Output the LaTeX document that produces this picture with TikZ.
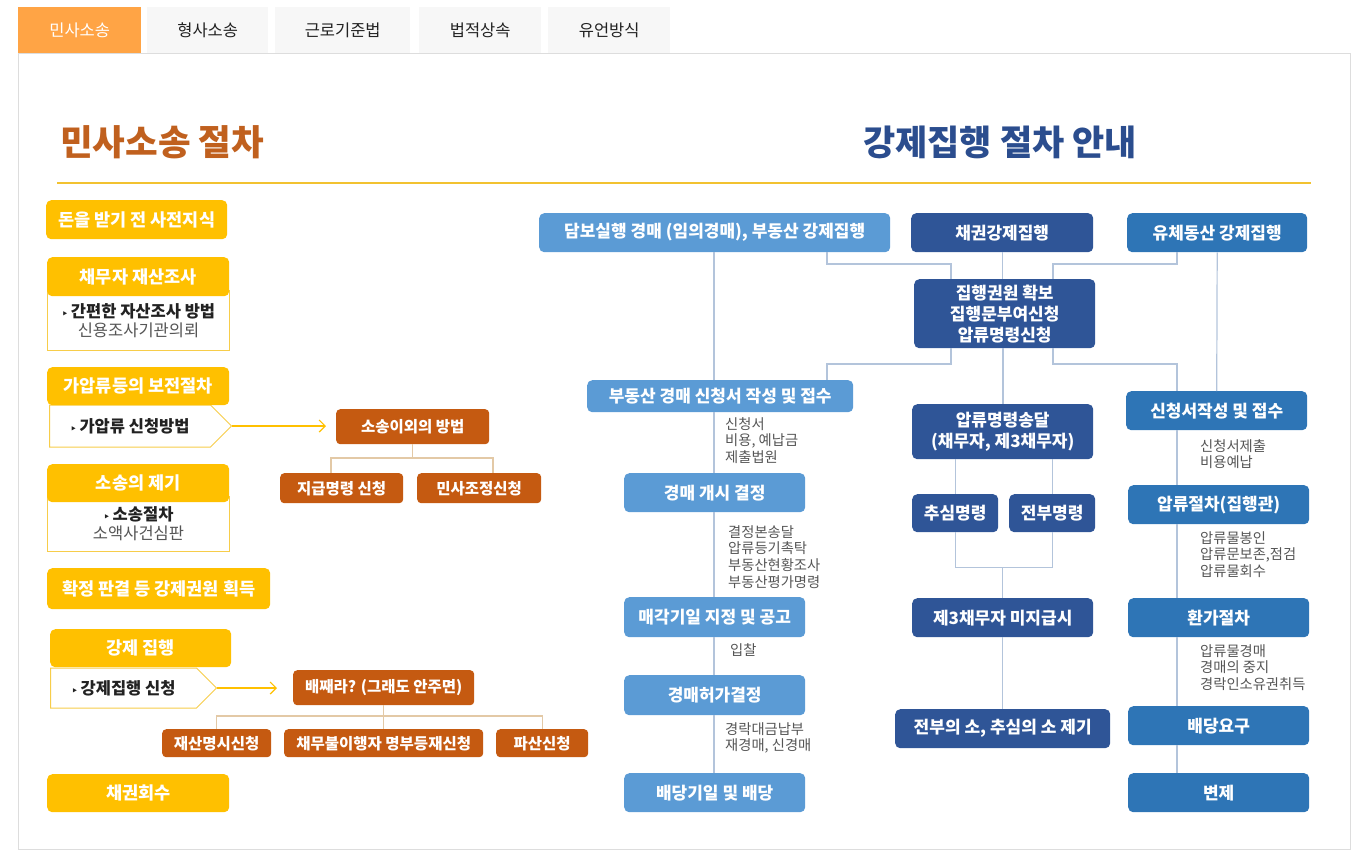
\documentclass[tikz,border=0pt]{standalone}
\usepackage{fontspec}
\setmainfont{Noto Sans CJK KR}
\newfontfamily\dejavu{DejaVu Sans}
\usetikzlibrary{arrows.meta,shapes.symbols}
\definecolor{cY}{HTML}{FFC000}
\definecolor{cYl}{HTML}{F7CD4A}
\definecolor{cBr}{HTML}{C55A11}
\definecolor{cTan}{HTML}{E3C9A6}
\definecolor{cLB}{HTML}{5B9BD5}
\definecolor{cDB}{HTML}{2F5597}
\definecolor{cMB}{HTML}{2E75B6}
\definecolor{cLn}{HTML}{B3C4DB}
\definecolor{cGr}{HTML}{555555}
\definecolor{cTx}{HTML}{222222}
\definecolor{cT1}{HTML}{C0601E}
\definecolor{cT2}{HTML}{2B4D8E}
\definecolor{cLine}{HTML}{F2C230}
\definecolor{cTabOn}{HTML}{FFA445}
\definecolor{cTabOff}{HTML}{F7F7F7}
\definecolor{cPanel}{HTML}{DDDDDD}
\newcommand\bx[7]{\node[#1,anchor=north west,minimum width=#5pt,minimum height=#6pt] (#2) at (#3,#4) {#7};}
\newcommand\tri{{\dejavu\fontsize{10}{10}\selectfont ‣}\,}
\tikzset{
 every node/.style={inner sep=0pt},
 tabon/.style={fill=cTabOn,text=white,font=\fontsize{16.5}{19}\selectfont},
 taboff/.style={fill=cTabOff,text=cTx,font=\fontsize{16.5}{19}\selectfont},
 ybox/.style={fill=cY,rounded corners=5pt,text=white,font=\bfseries\fontsize{17.5}{20}\selectfont},
 wbox/.style={draw=cYl,line width=1pt,fill=white,align=center,text=cGr,font=\fontsize{16.5}{19}\selectfont},
 chev/.style={signal,signal to=east,signal pointer angle=90,draw=cYl,line width=1pt,fill=white,text=cTx,font=\bfseries\fontsize{16.5}{19}\selectfont},
 brbox/.style={fill=cBr,rounded corners=4pt,text=white,font=\bfseries\fontsize{15.5}{18}\selectfont},
 lbbox/.style={fill=cLB,rounded corners=5pt,text=white,align=center,font=\bfseries\fontsize{17}{21}\selectfont},
 dbbox/.style={lbbox,fill=cDB},
 mbbox/.style={lbbox,fill=cMB},
 note/.style={anchor=north west,align=left,text=cGr,font=\fontsize{14.3}{16.8}\selectfont},
 bl/.style={draw=cLn,line width=1.2pt},
 tn/.style={draw=cTan,line width=1.2pt},
 yarr/.style={draw=cY,line width=1.2pt,-{Straight Barb[length=6pt,width=12pt]}},
}
\begin{document}
\begin{tikzpicture}[x=1pt,y=-1pt]
\useasboundingbox (0,0) rectangle (1365,857);
% tabs and panel
\draw[cPanel,line width=1pt] (18,53) rectangle (1350,849);
\bx{tabon}{t1}{18}{7}{123}{46}{민사소송}
\bx{taboff}{t2}{147}{7}{121}{46}{형사소송}
\bx{taboff}{t3}{275}{7}{135}{46}{근로기준법}
\bx{taboff}{t4}{419}{7}{122}{46}{법적상속}
\bx{taboff}{t5}{548}{7}{122}{46}{유언방식}
% titles
\node[anchor=west,text=cT1,font=\bfseries\fontsize{35.5}{40}\selectfont] (title1) at (60,142) {민사소송 절차};
\node[anchor=west,text=cT2,font=\bfseries\fontsize{35}{40}\selectfont] (title2) at (863,142) {강제집행 절차 안내};
\draw[cLine,line width=2pt] (57,183) -- (1311,183);
% left column
\bx{ybox}{ya}{46}{200}{181}{39}{돈을 받기 전 사전지식}
\bx{wbox}{wb}{47}{290}{182}{60}{{\bfseries\color{cTx}\tri 간편한 자산조사 방법}\\신용조사기관의뢰}
\bx{ybox}{yb}{47}{257}{182}{39}{채무자 재산조사}
\node[chev,anchor=west,minimum width=182pt,minimum height=42pt] (chev1) at (49,426) {\tri 가압류 신청방법};
\bx{ybox}{yc}{47}{367}{182}{38}{가압류등의 보전절차}
\bx{wbox}{wd}{47}{496}{182}{55}{{\bfseries\color{cTx}\tri 소송절차}\\소액사건심판}
\bx{ybox}{yd}{47}{464}{182}{38}{소송의 제기}
\bx{ybox}{ye}{47}{568}{223}{41}{확정 판결 등 강제권원 획득}
\node[chev,anchor=west,minimum width=166pt,minimum height=40pt] (chev2) at (50,688) {\tri 강제집행 신청};
\bx{ybox}{yf}{50}{629}{181}{38}{강제 집행}
\bx{ybox}{yg}{47}{774}{182}{38}{채권회수}
% brown
\bx{brbox}{soso}{336}{409}{153}{35}{소송이외의 방법}
\bx{brbox}{jigeup}{280}{473}{123}{30}{지급명령 신청}
\bx{brbox}{minsa}{417}{473}{124}{30}{민사조정신청}
\bx{brbox}{bae}{293}{670}{181}{35}{배째라? (그래도 안주면)}
\bx{brbox}{jaesan}{162}{729}{109}{28}{재산명시신청}
\bx{brbox}{chaemu}{284}{729}{199}{28}{채무불이행자 명부등재신청}
\bx{brbox}{pasan}{496}{729}{92}{28}{파산신청}
\draw[yarr,shorten >=10pt] (chev1.east) -- (soso.west |- chev1.east);
\draw[yarr,shorten >=16pt] (chev2.east) -- (bae.west |- chev2.east);
\draw[tn] (soso.south) -- ++(0,14);
\draw[tn] (jigeup.north -| 331,0) |- (493,458) -- (minsa.north -| 493,0);
\draw[tn] (bae.south) -- (chaemu.north);
\draw[tn] (jaesan.north) |- (pasan.north |- 0,716) -- (pasan.north);
% blue
\bx{lbbox}{dambo}{539}{213}{351}{39}{담보실행 경매 (임의경매), 부동산 강제집행}
\bx{dbbox}{chae}{911}{213}{182}{39}{채권강제집행}
\bx{mbbox}{yuche}{1127}{213}{180}{39}{유체동산 강제집행}
\bx{dbbox}{jip}{914}{279}{181}{69}{집행권원 확보\\집행문부여신청\\압류명령신청}
\bx{lbbox}{bud}{587}{380}{266}{32}{부동산 경매 신청서 작성 및 접수}
\bx{lbbox}{gae}{624}{473}{181}{39}{경매 개시 결정}
\bx{lbbox}{mae}{624}{597}{181}{40}{매각기일 지정 및 공고}
\bx{lbbox}{heo}{624}{675}{181}{40}{경매허가결정}
\bx{lbbox}{baed}{624}{773}{181}{39}{배당기일 및 배당}
\bx{dbbox}{apsong}{912}{404}{181}{55}{압류명령송달\\(채무자, 제3채무자)}
\bx{dbbox}{chu}{912}{494}{86}{38}{추심명령}
\bx{dbbox}{jeon}{1009}{494}{86}{38}{전부명령}
\bx{dbbox}{mi}{912}{598}{181}{39}{제3채무자 미지급시}
\bx{dbbox}{jeonbu}{895}{709}{215}{39}{전부의 소, 추심의 소 제기}
\bx{mbbox}{sin}{1126}{391}{181}{39}{신청서작성 및 접수}
\bx{mbbox}{ap}{1128}{485}{181}{39}{압류절차(집행관)}
\bx{mbbox}{hwan}{1128}{598}{181}{39}{환가절차}
\bx{mbbox}{bd}{1128}{706}{181}{39}{배당요구}
\bx{mbbox}{byeon}{1128}{773}{181}{39}{변제}
% blue connectors
\draw[bl] (dambo.south -| 714,0) -- (bud.north -| 714,0);
\draw[bl] (dambo.south -| 827,0) |- (951,264) -- (jip.north -| 951,0);
\draw[bl] (chae.south) -- (chae.south |- jip.north);
\draw[bl] (yuche.south -| 1177,0) |- (1053,264) -- (jip.north -| 1053,0);
\draw[bl] (jip.south -| 951,0) |- (827,364) -- (bud.north -| 827,0);
\draw[bl] (jip.south -| 1003,0) -- (apsong.north -| 1003,0);
\draw[bl] (jip.south -| 1053,0) |- (1177,364) -- (sin.north -| 1177,0);
\draw[bl] (yuche.south) -- (sin.north);
\draw[bl] (bud.south -| 714,0) -- (gae.north -| 714,0);
\draw[bl] (gae.south -| 714,0) -- (mae.north -| 714,0);
\draw[bl] (mae.south -| 714,0) -- (heo.north -| 714,0);
\draw[bl] (heo.south -| 714,0) -- (baed.north -| 714,0);
\draw[bl] (apsong.south -| chu.north) -- (chu.north);
\draw[bl] (apsong.south -| jeon.north) -- (jeon.north);
\draw[bl] (chu.south) -- ++(0,35) -| (jeon.south);
\draw[bl] (mi.north) -- ++(0,-31);
\draw[bl] (mi.south) -- (jeonbu.north);
\draw[bl] (sin.south -| 1177,0) -- (ap.north -| 1177,0);
\draw[bl] (ap.south -| 1177,0) -- (hwan.north -| 1177,0);
\draw[bl] (hwan.south -| 1177,0) -- (bd.north -| 1177,0);
\draw[bl] (bd.south -| 1177,0) -- (byeon.north -| 1177,0);
% notes
\node[note] (n1) at (725,417) {신청서\\비용, 예납금\\제출법원};
\node[note] (n2) at (728,525) {결정본송달\\압류등기촉탁\\부동산현황조사\\부동산평가명령};
\node[note] (n3) at (730,643) {입찰};
\node[note] (n4) at (725,722) {경락대금납부\\재경매, 신경매};
\node[note] (n5) at (1200,439) {신청서제출\\비용예납};
\node[note] (n6) at (1200,531) {압류물봉인\\압류문보존,점검\\압류물회수};
\node[note] (n7) at (1200,644) {압류물경매\\경매의 중지\\경락인소유권취득};
\end{tikzpicture}
\end{document}
